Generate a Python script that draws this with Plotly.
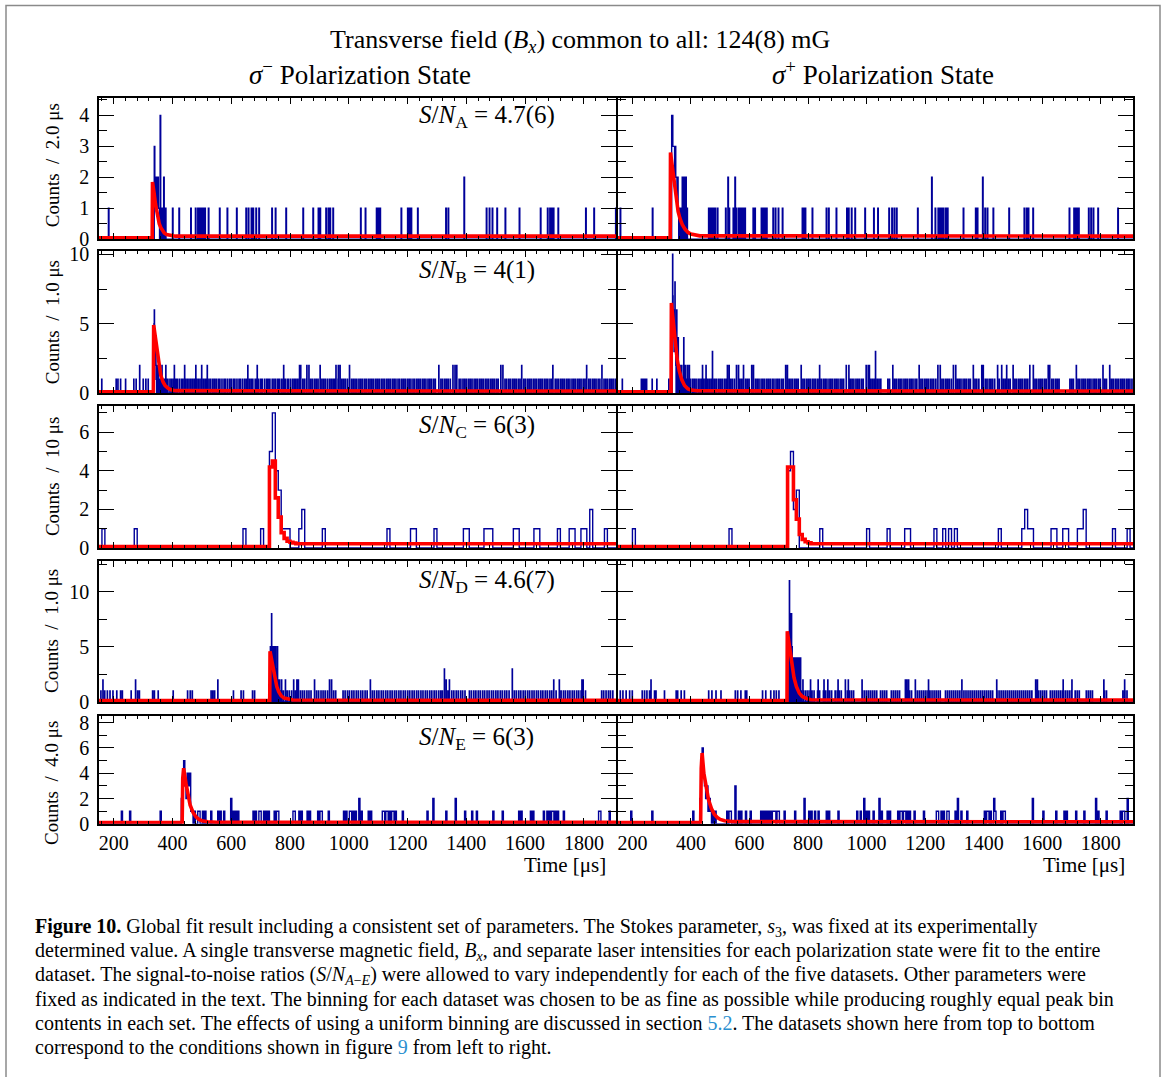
import numpy as np
import plotly.graph_objects as go

W, H = 1165, 1077
T_MIN, T_MAX = 150, 1910

# ---------------- per-row settings ----------------
ROW_KEYS = ["A", "B", "C", "D", "E"]
BIN_WIDTH = [2.0, 1.0, 10.0, 1.0, 4.0]
Y_TITLES = ["Counts  /  2.0 μs", "Counts  /  1.0 μs", "Counts  /  10 μs",
            "Counts  /  1.0 μs", "Counts  /  4.0 μs"]
SN_VALUES = ["4.7(6)", "4(1)", "6(3)", "4.6(7)", "6(3)"]
Y_MAX = [4.55, 10.22, 7.35, 12.78, 8.53]
Y_DTICK = [1, 5, 2, 5, 2]
Y_MINOR = [0.5, 2.5, 1, 2.5, 1]
X_TICKS = [200, 400, 600, 800, 1000, 1200, 1400, 1600, 1800]

# ---------------- data: event times [μs] and bin contents ----------------
# Row A, sigma-minus (2 us bins)
A_m_t = [182, 334, 338, 340, 342, 344, 346, 348, 350, 352, 354, 358, 362, 366, 370, 376,
         400, 422, 463, 479, 487, 492, 499, 505, 511, 522, 560, 586, 618, 650, 659, 668,
         675, 684, 695, 739, 750, 787, 845, 879, 896, 902, 923, 930, 937, 947, 1040, 1056,
         1094, 1101, 1107, 1178, 1201, 1207, 1212, 1235, 1331, 1338, 1393, 1469, 1479,
         1489, 1504, 1533, 1581, 1652, 1677, 1684, 1690, 1697, 1712, 1806, 1834, 1908]
A_m_n = [1, 1, 3, 1, 2, 1, 2, 1, 2, 1, 1, 4, 1, 1, 2, 1,
         1, 1, 1, 1, 1, 1, 1, 1, 1, 1, 1, 1, 1, 1, 1, 1,
         1, 1, 1, 1, 1, 1, 1, 1, 1, 1, 1, 1, 1, 1, 1, 1,
         1, 1, 1, 1, 1, 1, 1, 1, 1, 1, 2, 1, 1,
         1, 1, 1, 1, 1, 1, 1, 1, 1, 1, 1, 1, 1]
# Row A, sigma-plus
A_p_t = [158, 269, 334, 336, 338, 340, 342, 344, 346, 348, 350, 352, 354, 356, 360, 364,
         370, 374, 378, 382, 386, 460, 465, 471, 477, 482, 490, 519, 526, 530, 544, 551,
         555, 562, 566, 573, 579, 585, 613, 619, 640, 647, 653, 658, 681, 689, 698, 712,
         780, 785, 791, 814, 863, 871, 896, 933, 939, 948, 961, 995, 1024, 1038, 1077,
         1086, 1095, 1103, 1174, 1222, 1234, 1245, 1251, 1256, 1262, 1270, 1276, 1330,
         1372, 1379, 1396, 1404, 1413, 1432, 1487, 1538, 1546, 1552, 1569, 1693, 1708,
         1714, 1720, 1725, 1758, 1767, 1775, 1790, 1858]
A_p_n = [1, 1, 4, 4, 3, 3, 3, 2, 3, 2, 2, 1, 2, 1, 1, 1,
         2, 2, 2, 2, 1, 1, 1, 1, 1, 1, 1, 1, 2, 1, 1, 2,
         1, 1, 1, 1, 1, 1, 1, 1, 1, 1, 1, 1, 1, 1, 1, 1,
         1, 1, 1, 1, 1, 1, 1, 1, 1, 1, 1, 1, 1, 1, 1,
         1, 1, 1, 1, 2, 1, 1, 1, 1, 1, 1, 1, 1,
         1, 1, 2, 1, 1, 1, 1, 1, 1, 1, 1, 1, 1,
         1, 1, 1, 1, 1, 1, 1, 1]

# Row B, sigma-minus (1 us bins)
B_m_t = [159, 208, 214, 223, 240, 268, 276, 288, 300, 309, 317,
         336, 337, 338, 339, 340, 341, 342, 343, 344, 345, 347, 348, 350, 352, 355, 358,
         361, 364, 367, 377, 406, 441, 479, 499, 518, 656, 688, 778, 832, 836, 857, 864,
         902, 956, 964, 970, 1002, 1306, 1354, 1361, 1367, 1517, 1524, 1588, 1694, 1809, 1861]
B_m_n = [1, 1, 1, 1, 1, 1, 1, 2, 1, 1, 1,
         2, 5, 6, 4, 3, 2, 4, 3, 1, 2, 1, 2, 1, 2, 1, 1,
         1, 2, 1, 2, 2, 2, 2, 2, 2, 2, 2, 2, 2, 2, 2, 2,
         2, 2, 2, 2, 2, 2, 2, 2, 2, 2, 2, 2, 2, 2, 2]
B_m_bg = [372, 379, 384, 391, 397, 403, 411, 416, 423, 430, 435, 444, 450, 456, 462, 468,
          474, 481, 487, 493, 505, 511, 516, 524, 530, 537, 543, 549, 556, 561, 568, 575,
          580, 587, 594, 600, 607, 612, 619, 626, 631, 638, 645, 651, 662, 668, 673, 681,
          686, 693, 700, 705, 713, 720, 725, 731, 739, 745, 751, 758, 763, 770, 776, 783,
          790, 795, 802, 809, 815, 820, 826, 843, 849, 856, 870, 876, 883, 889, 895, 908,
          914, 920, 927, 934, 940, 946, 951, 963, 976, 982, 988, 995, 1009, 1015, 1021,
          1027, 1034, 1040, 1046, 1053, 1059, 1066, 1072, 1078, 1084, 1091, 1097, 1103,
          1110, 1116, 1122, 1129, 1135, 1141, 1148, 1154, 1160, 1167, 1173, 1180, 1186,
          1192, 1199, 1205, 1211, 1218, 1224, 1231, 1237, 1243, 1250, 1256, 1262, 1269,
          1275, 1281, 1288, 1294, 1313, 1319, 1326, 1332, 1338, 1345, 1375, 1381, 1388,
          1394, 1400, 1407, 1413, 1419, 1426, 1432, 1438, 1445, 1451, 1457, 1464, 1470,
          1476, 1483, 1489, 1495, 1502, 1508, 1531, 1537, 1544, 1550, 1557, 1563, 1569,
          1576, 1582, 1595, 1601, 1608, 1614, 1620, 1627, 1633, 1639, 1646, 1652, 1658,
          1665, 1671, 1677, 1684, 1690, 1702, 1708, 1714, 1721, 1727, 1733, 1740, 1746,
          1752, 1759, 1765, 1771, 1778, 1784, 1790, 1797, 1803, 1816, 1822, 1829, 1835,
          1841, 1848, 1854, 1868, 1874, 1880, 1887, 1893, 1899, 1906]
# Row B, sigma-plus
B_p_t = [165, 230, 234, 238, 243, 248, 267, 283, 324,
         334, 336, 337, 338, 339, 340, 341, 342, 343, 344, 345, 346, 347, 348, 350, 351,
         352, 354, 356, 358, 360, 362, 365, 368, 371, 375, 378, 380, 384, 387,
         388, 394, 439, 451, 473, 524, 530, 555, 562, 579, 607, 613, 723, 729, 776, 839,
         930, 939, 998, 1005, 1009, 1030, 1089, 1179, 1243, 1251, 1296, 1304, 1364, 1393,
         1398, 1447, 1461, 1478, 1500, 1557, 1569, 1620, 1625, 1716, 1807, 1830]
B_p_n = [1, 1, 1, 1, 1, 1, 1, 1, 1,
         3, 6, 10, 7, 5, 6, 4, 3, 5, 3, 8, 4, 3, 2, 4, 6,
         3, 2, 4, 2, 1, 2, 1, 2, 1, 4, 1, 2, 1, 2,
         2, 2, 2, 2, 3, 2, 2, 2, 2, 2, 2, 2, 2, 2, 2, 2,
         2, 2, 2, 2, 2, 3, 2, 2, 2, 2, 2, 2, 2, 2,
         2, 2, 2, 2, 2, 2, 2, 2, 2, 2, 2, 2]
B_p_bg = [392, 398, 405, 411, 417, 424, 430, 436, 443, 449, 456, 462, 468, 475, 481, 487,
          494, 500, 506, 513, 519, 535, 541, 548, 567, 573, 586, 592, 598, 620, 626, 632,
          639, 645, 651, 658, 664, 670, 677, 683, 690, 696, 702, 709, 715, 735, 741, 747,
          754, 760, 766, 782, 788, 795, 801, 807, 814, 820, 826, 833, 845, 852, 858, 864,
          871, 877, 883, 890, 896, 902, 909, 915, 921, 944, 950, 956, 963, 969, 975, 982,
          988, 1014, 1020, 1026, 1036, 1042, 1048, 1072, 1078, 1095, 1101, 1108, 1114,
          1120, 1127, 1133, 1139, 1146, 1152, 1158, 1165, 1171, 1185, 1191, 1198, 1204,
          1210, 1217, 1223, 1229, 1236, 1257, 1263, 1270, 1276, 1282, 1289, 1310, 1316,
          1322, 1329, 1335, 1341, 1348, 1354, 1370, 1376, 1383, 1405, 1411, 1418, 1424,
          1430, 1437, 1453, 1467, 1473, 1484, 1490, 1506, 1512, 1519, 1525, 1531, 1538,
          1544, 1550, 1575, 1581, 1588, 1594, 1600, 1607, 1613, 1632, 1638, 1645, 1651,
          1657, 1694, 1700, 1706, 1722, 1728, 1735, 1741, 1747, 1754, 1760, 1766, 1773,
          1779, 1785, 1792, 1798, 1813, 1819, 1836, 1842, 1849, 1855, 1861, 1868, 1874,
          1880, 1887, 1893, 1899, 1906]

# Row C, sigma-minus (10 us bins; bin start times)
C_m_t = [160, 270, 640, 700, 730, 740, 750, 760, 770, 780, 790, 830, 840, 910, 1130,
         1210, 1220, 1290, 1390, 1400, 1460, 1470, 1480, 1560, 1570, 1630, 1640, 1710,
         1750, 1760, 1790, 1800, 1820, 1870]
C_m_n = [1, 1, 1, 1, 5, 7, 4, 3, 1, 1, 1, 1, 2, 1, 1,
         1, 1, 1, 1, 1, 1, 1, 1, 1, 1, 1, 1, 1,
         1, 1, 1, 1, 2, 1]
# Row C, sigma-plus
C_p_t = [200, 530, 730, 740, 750, 760, 840, 1000, 1070, 1130, 1140, 1230, 1260, 1280,
         1300, 1450, 1530, 1540, 1550, 1560, 1630, 1640, 1670, 1680, 1720, 1730, 1740,
         1840, 1890]
C_p_n = [1, 1, 4, 5, 2, 3, 1, 1, 1, 1, 1, 1, 1, 1,
         1, 1, 1, 2, 1, 1, 1, 1, 1, 1, 1, 1, 2,
         1, 1]

# Row D, sigma-minus (1 us bins)
D_m_t = [156, 163, 169, 178, 187, 197, 210, 223, 229, 259, 274, 281, 287, 332, 338, 351,
         402, 451, 460, 467, 531, 537, 543, 554, 607, 633, 641, 672, 679,
         733, 735, 737, 738, 740, 742, 743, 745, 747, 749, 751, 753, 755, 757, 759, 762,
         764, 767, 771, 784, 812, 823, 828, 883, 934, 941, 1073, 1325, 1331, 1342, 1556,
         1697, 1716, 1793, 1797]
D_m_n = [1, 2, 1, 1, 1, 1, 1, 1, 1, 1, 2, 1, 1, 1, 1, 1,
         1, 1, 1, 1, 1, 1, 1, 2, 1, 1, 1, 1, 1,
         5, 3, 8, 4, 5, 3, 5, 2, 5, 3, 5, 2, 3, 5, 2, 1,
         2, 1, 2, 2, 2, 2, 2, 2, 2, 2, 2, 3, 2, 2, 3,
         2, 2, 2, 2]
D_m_bg = [770, 777, 790, 797, 805, 818, 835, 842, 849, 857, 864, 871, 890, 897, 905, 912,
          919, 927, 948, 955, 980, 987, 995, 1002, 1010, 1017, 1025, 1032, 1040, 1047,
          1055, 1062, 1080, 1087, 1095, 1102, 1110, 1117, 1125, 1132, 1140, 1147, 1155,
          1162, 1170, 1177, 1185, 1192, 1200, 1207, 1215, 1222, 1230, 1237, 1245, 1252,
          1260, 1267, 1275, 1282, 1290, 1297, 1305, 1312, 1318, 1337, 1350, 1357, 1365,
          1372, 1380, 1387, 1395, 1410, 1417, 1425, 1432, 1440, 1447, 1455, 1462, 1470,
          1477, 1485, 1492, 1500, 1507, 1515, 1522, 1530, 1537, 1545, 1563, 1570, 1578,
          1585, 1593, 1600, 1608, 1615, 1623, 1630, 1638, 1645, 1653, 1660, 1668, 1675,
          1683, 1690, 1705, 1722, 1730, 1737, 1745, 1752, 1760, 1767, 1775, 1782, 1790,
          1805, 1860, 1867, 1875, 1883, 1890, 1898]
# Row D, sigma-plus
D_p_t = [158, 167, 178, 190, 199, 233, 241, 249, 258, 263, 275, 280, 309, 349, 354, 366,
         377, 460, 471, 485, 502, 551, 559, 570, 585, 590, 644, 655, 672, 683, 691, 700,
         730, 732, 734, 736, 737, 739, 741, 743, 745, 747, 749, 751, 753, 754, 756, 758,
         760, 762, 764, 766, 768, 770, 772, 774, 776,
         782, 808, 834, 854, 867, 902, 927, 937, 984, 1132, 1137, 1143, 1166, 1211, 1325,
         1444, 1577, 1583, 1671, 1701, 1810, 1881]
D_p_n = [1, 1, 1, 1, 1, 1, 1, 1, 1, 2, 1, 1, 1, 1, 1, 1,
         1, 1, 1, 1, 1, 1, 1, 1, 1, 1, 1, 1, 1, 1, 1, 1,
         3, 6, 6, 11, 8, 8, 8, 8, 5, 4, 3, 4, 2, 4, 3, 4,
         2, 4, 1, 4, 2, 4, 1, 4, 1,
         2, 2, 2, 2, 2, 2, 2, 2, 2, 2, 2, 2, 2, 2, 2,
         2, 2, 2, 2, 2, 2, 2]
D_p_bg = [785, 792, 799, 806, 813, 820, 832, 839, 852, 859, 866, 873, 880, 892, 899, 906,
          913, 927, 934, 941, 948, 955, 985, 992, 999, 1006, 1013, 1020, 1027, 1034, 1047,
          1054, 1061, 1068, 1084, 1091, 1098, 1105, 1112, 1132, 1139, 1146, 1153, 1167,
          1174, 1181, 1188, 1195, 1202, 1209, 1216, 1223, 1230, 1237, 1244, 1251, 1269,
          1276, 1283, 1290, 1297, 1304, 1311, 1318, 1332, 1339, 1346, 1353, 1360, 1367,
          1374, 1381, 1388, 1395, 1402, 1409, 1416, 1423, 1430, 1445, 1452, 1459, 1466,
          1473, 1480, 1487, 1494, 1501, 1508, 1515, 1522, 1529, 1536, 1543, 1550, 1557,
          1564, 1579, 1586, 1593, 1600, 1607, 1614, 1627, 1634, 1641, 1648, 1655, 1662,
          1669, 1678, 1685, 1692, 1699, 1712, 1719, 1726, 1750, 1757, 1764, 1771, 1812,
          1819, 1875, 1882, 1889]

# Row E, sigma-minus (4 us bins)
E_m_t = [227, 255, 360, 432, 436, 440, 444, 448, 452, 456, 460, 464, 469, 477, 486, 492,
         502, 511, 531, 556, 563, 575, 598, 607, 614, 624, 675, 682, 695, 701, 710, 720,
         729, 748, 755, 761, 810, 816, 832, 838, 861, 868, 896, 902, 909, 932, 985, 992,
         1002, 1007, 1015, 1024, 1037, 1043, 1069, 1075, 1114, 1120, 1126, 1133, 1139,
         1146, 1152, 1158, 1184, 1267, 1287, 1331, 1363, 1396, 1421, 1434, 1492, 1524,
         1581, 1588, 1620, 1626, 1665, 1677, 1684, 1690, 1697, 1703, 1710, 1733, 1850,
         1857, 1889]
E_m_n = [1, 1, 1, 2, 3, 5, 3, 2, 4, 3, 4, 1, 1, 1, 1, 1,
         1, 1, 1, 1, 1, 1, 2, 1, 1, 1, 1, 1, 1, 1, 1, 1,
         1, 1, 1, 1, 1, 1, 1, 1, 1, 1, 1, 1, 1, 1, 1, 1,
         1, 1, 1, 1, 2, 1, 1, 1, 1, 1, 1, 1, 1,
         1, 1, 1, 1, 1, 2, 1, 2, 1, 1, 1, 1, 1,
         1, 1, 1, 1, 1, 1, 1, 1, 1, 1, 1, 1, 1,
         1, 1]
# Row E, sigma-plus
E_p_t = [195, 269, 409, 432, 436, 440, 444, 448, 452, 456, 460, 464, 468, 476, 482, 522,
         530, 536, 551, 562, 573, 587, 604, 641, 649, 657, 664, 672, 678, 683, 689, 695,
         700, 721, 757, 789, 803, 812, 823, 837, 863, 871, 905, 967, 978, 993, 1001, 1007,
         1024, 1043, 1050, 1073, 1081, 1109, 1115, 1120, 1126, 1132, 1141, 1149, 1163,
         1194, 1240, 1245, 1254, 1262, 1274, 1279, 1302, 1313, 1325, 1342, 1402, 1410,
         1415, 1424, 1436, 1438, 1459, 1467, 1472, 1569, 1603, 1648, 1676, 1685, 1716,
         1742, 1784, 1790, 1818, 1869, 1875, 1881, 1893]
E_p_n = [1, 1, 1, 2, 4, 6, 4, 3, 2, 3, 1, 2, 1, 1, 1, 1,
         1, 1, 3, 1, 1, 1, 1, 1, 1, 1, 1, 1, 1, 1, 1, 1,
         1, 1, 1, 2, 1, 1, 1, 1, 1, 1, 1, 1, 1, 2, 1, 1,
         1, 2, 1, 1, 1, 1, 1, 1, 1, 1, 1, 1, 1,
         1, 1, 1, 1, 1, 1, 1, 1, 2, 1, 1, 1, 1,
         1, 1, 2, 1, 1, 1, 1, 2, 1, 1, 1, 1, 1,
         1, 2, 1, 1, 1, 1, 1, 2]

# ---------------- fitted model curves ----------------
A_m_fit_t = [150, 331, 332, 334, 338, 342, 346, 350, 355, 360, 366, 372, 380, 392, 410, 1910]
A_m_fit_y = [0.05, 0.05, 1.85, 1.75, 1.45, 1.15, 0.9, 0.7, 0.5, 0.38, 0.27, 0.2, 0.15, 0.12, 0.1, 0.1]
A_p_fit_t = [150, 329, 330, 334, 338, 342, 346, 350, 356, 362, 370, 380, 390, 400, 415, 430, 1910]
A_p_fit_y = [0.05, 0.05, 2.8, 2.5, 2.1, 1.75, 1.45, 1.2, 0.9, 0.68, 0.48, 0.32, 0.22, 0.17, 0.13, 0.11, 0.1]
B_m_fit_t = [150, 335, 336, 340, 345, 350, 355, 360, 368, 375, 385, 395, 410, 1910]
B_m_fit_y = [0.1, 0.1, 4.9, 4.3, 3.3, 2.5, 1.8, 1.3, 0.8, 0.55, 0.35, 0.25, 0.18, 0.15]
B_p_fit_t = [150, 332, 333, 338, 343, 348, 353, 360, 368, 378, 390, 400, 420, 1910]
B_p_fit_y = [0.1, 0.1, 6.5, 5.5, 4.3, 3.2, 2.4, 1.6, 1.0, 0.55, 0.3, 0.22, 0.17, 0.15]
C_m_fit_t = [150, 730, 740, 750, 760, 770, 780, 790, 800, 810, 820, 1910]
C_m_fit_y = [0.08, 4.2, 4.5, 2.6, 1.6, 0.8, 0.5, 0.35, 0.3, 0.26, 0.22, 0.22]
C_p_fit_t = [150, 730, 740, 750, 760, 770, 780, 790, 800, 810, 1910]
C_p_fit_y = [0.08, 4.2, 4.2, 2.5, 1.5, 0.7, 0.45, 0.33, 0.27, 0.22, 0.22]
D_m_fit_t = [150, 731, 732, 737, 742, 748, 755, 762, 770, 780, 795, 810, 1910]
D_m_fit_y = [0.13, 0.13, 4.6, 3.9, 3.0, 2.2, 1.4, 0.9, 0.55, 0.35, 0.22, 0.17, 0.15]
D_p_fit_t = [150, 728, 729, 734, 739, 745, 752, 760, 770, 780, 795, 810, 1910]
D_p_fit_y = [0.13, 0.13, 6.4, 5.4, 4.3, 3.2, 2.2, 1.4, 0.8, 0.5, 0.3, 0.2, 0.17]
E_m_fit_t = [150, 433, 435, 438, 446, 452, 460, 470, 480, 490, 500, 520, 550, 1910]
E_m_fit_y = [0.1, 0.1, 3.6, 4.4, 3.2, 2.3, 1.5, 0.9, 0.55, 0.35, 0.25, 0.17, 0.13, 0.12]
E_p_fit_t = [150, 433, 435, 438, 444, 452, 460, 470, 480, 490, 500, 515, 540, 1910]
E_p_fit_y = [0.1, 0.1, 4.4, 5.6, 4.0, 2.8, 1.9, 1.2, 0.75, 0.5, 0.35, 0.25, 0.18, 0.17]

DATA = {
    ("A", 0): (A_m_t, A_m_n, [], A_m_fit_t, A_m_fit_y),
    ("A", 1): (A_p_t, A_p_n, [], A_p_fit_t, A_p_fit_y),
    ("B", 0): (B_m_t, B_m_n, B_m_bg, B_m_fit_t, B_m_fit_y),
    ("B", 1): (B_p_t, B_p_n, B_p_bg, B_p_fit_t, B_p_fit_y),
    ("C", 0): (C_m_t, C_m_n, [], C_m_fit_t, C_m_fit_y),
    ("C", 1): (C_p_t, C_p_n, [], C_p_fit_t, C_p_fit_y),
    ("D", 0): (D_m_t, D_m_n, D_m_bg, D_m_fit_t, D_m_fit_y),
    ("D", 1): (D_p_t, D_p_n, D_p_bg, D_p_fit_t, D_p_fit_y),
    ("E", 0): (E_m_t, E_m_n, [], E_m_fit_t, E_m_fit_y),
    ("E", 1): (E_p_t, E_p_n, [], E_p_fit_t, E_p_fit_y),
}

# ---------------- layout geometry (pixels, target positions) ----------------
COLS_PX = [(99, 616.2), (617.8, 1133)]
ROWS_PX = [(97, 238), (250, 392), (405, 547), (560, 701), (715, 823)]
YLAB_CY = [164, 321, 476, 630, 782]
SN_CY = [115, 270, 425, 580, 738]
CAPTION_Y0, CAPTION_DY = 927, 24

FONT = "Liberation Serif"
BLUE = "#00009a"
RED = "#ff0000"
# vertical calibration of the capture (observed = K * page + B)
K_CAL, B_CAL = 0.983, 6.6


def px(x):
    return x / W


def py(y):
    return 1 - ((y - B_CAL) / K_CAL) / H


def histogram(width, ev_t, ev_n, bg):
    edges = np.arange(T_MIN, T_MAX + width * 0.5, width)
    counts = np.zeros(len(edges) - 1)
    for t in bg:
        i = int((t - T_MIN) // width)
        if 0 <= i < len(counts):
            counts[i] += 1
    for t, n in zip(ev_t, ev_n):
        i = int((t - T_MIN) // width)
        if 0 <= i < len(counts):
            counts[i] = max(counts[i], n)
    return edges, np.append(counts, counts[-1])


fig = go.Figure()
layout = dict(
    width=W, height=H, margin=dict(l=0, r=0, t=0, b=0),
    paper_bgcolor="white", plot_bgcolor="white", showlegend=False,
    font=dict(family=FONT, color="black"),
)
annotations = []

for r, key in enumerate(ROW_KEYS):
    for c in range(2):
        k = r * 2 + c + 1
        xa, ya = f"x{k}", f"y{k}"
        ev_t, ev_n, bg, fit_t, fit_y = DATA[(key, c)]
        edges, counts = histogram(BIN_WIDTH[r], ev_t, ev_n, bg)
        fig.add_trace(go.Scatter(
            x=edges, y=counts, mode="lines", line=dict(color=BLUE, width=1.4, shape="hv"),
            xaxis=xa, yaxis=ya, hoverinfo="skip"))
        fig.add_trace(go.Scatter(
            x=fit_t, y=fit_y, mode="lines",
            line=dict(color=RED, width=3.6, shape="hv" if key == "C" else "linear"),
            xaxis=xa, yaxis=ya, hoverinfo="skip"))

        x0, x1 = COLS_PX[c]
        y0, y1 = ROWS_PX[r]
        xname = "xaxis" if k == 1 else f"xaxis{k}"
        yname = "yaxis" if k == 1 else f"yaxis{k}"
        layout[xname] = dict(
            domain=[px(x0), px(x1)], anchor=ya, range=[T_MIN, T_MAX],
            showline=True, linecolor="black", linewidth=1.6, mirror="allticks",
            ticks="inside", ticklen=6, tickwidth=1.2, tickcolor="black",
            tickvals=X_TICKS,
            minor=dict(dtick=40, tick0=0, ticks="inside", ticklen=3, tickcolor="black",
                       tickwidth=1, showgrid=False),
            showgrid=False, zeroline=False,
            showticklabels=(r == 4), tickfont=dict(size=20, family=FONT),
        )
        layout[yname] = dict(
            domain=[py(y1), py(y0)], anchor=xa, range=[0, Y_MAX[r]],
            showline=True, linecolor="black", linewidth=1.6, mirror="allticks",
            ticks="inside", ticklen=15, tickwidth=1.2, tickcolor="black",
            dtick=Y_DTICK[r], tick0=0,
            minor=dict(dtick=Y_MINOR[r], tick0=0, ticks="inside", ticklen=8,
                       tickcolor="black", tickwidth=1, showgrid=False),
            showgrid=False, zeroline=False, ticklabelstandoff=4,
            showticklabels=(c == 0), tickfont=dict(size=20, family=FONT),
        )

    # y-axis title (left column only)
    annotations.append(dict(
        x=px(52), y=py(YLAB_CY[r]), xref="paper", yref="paper", text=Y_TITLES[r],
        textangle=-90, showarrow=False, font=dict(size=19, family=FONT),
        xanchor="center", yanchor="middle"))
    # S/N label
    annotations.append(dict(
        x=px(417), y=py(SN_CY[r]), xref="paper", yref="paper",
        text=f"<i>S</i>/<i>N</i><sub>{key}</sub> = {SN_VALUES[r]}",
        showarrow=False, font=dict(size=25, family=FONT), xanchor="left", yanchor="middle"))

# titles
annotations.append(dict(
    x=px(580), y=py(40), xref="paper", yref="paper",
    text="Transverse field (<i>B</i><sub><i>x</i></sub>) common to all: 124(8) mG",
    showarrow=False, font=dict(size=26, family=FONT), xanchor="center", yanchor="middle"))
annotations.append(dict(
    x=px(360), y=py(72), xref="paper", yref="paper",
    text="<i>σ</i><sup>−</sup> Polarization State",
    showarrow=False, font=dict(size=27, family=FONT), xanchor="center", yanchor="middle"))
annotations.append(dict(
    x=px(883), y=py(72), xref="paper", yref="paper",
    text="<i>σ</i><sup>+</sup> Polarization State",
    showarrow=False, font=dict(size=27, family=FONT), xanchor="center", yanchor="middle"))
for xr in (608, 1127):
    annotations.append(dict(
        x=px(xr), y=py(864), xref="paper", yref="paper", text="Time [μs]",
        showarrow=False, font=dict(size=21, family=FONT), xanchor="right", yanchor="middle"))

LINK = "color:#2a8fd0"
CAPTION = [
    "<b>Figure 10.</b> Global fit result including a consistent set of parameters. The Stokes parameter, <i>s</i><sub>3</sub>, was fixed at its experimentally",
    "determined value. A single transverse magnetic field, <i>B<sub>x</sub></i>, and separate laser intensities for each polarization state were fit to the entire",
    "dataset. The signal-to-noise ratios (<i>S</i>/<i>N</i><sub><i>A</i>−<i>E</i></sub>) were allowed to vary independently for each of the five datasets. Other parameters were",
    "fixed as indicated in the text. The binning for each dataset was chosen to be as fine as possible while producing roughly equal peak bin",
    f"contents in each set. The effects of using a uniform binning are discussed in section <span style='{LINK}'>5.2</span>. The datasets shown here from top to bottom",
    f"correspond to the conditions shown in figure <span style='{LINK}'>9</span> from left to right.",
]
for i, line in enumerate(CAPTION):
    annotations.append(dict(
        x=px(33), y=py(CAPTION_Y0 + CAPTION_DY * i), xref="paper", yref="paper", text=line,
        showarrow=False, font=dict(size=20, family=FONT), xanchor="left", yanchor="middle"))

layout["annotations"] = annotations
layout["shapes"] = [dict(type="rect", xref="paper", yref="paper",
                         x0=px(6), y0=-0.05, x1=px(1160), y1=py(4),
                         line=dict(color="#8a8a8a", width=1.5), layer="below")]
fig.update_layout(**layout)

PAGE_JS = (
    "document.documentElement.style.margin='0';"
    "document.documentElement.style.overflow='hidden';"
    "document.documentElement.style.height='1077px';"
    "document.body.style.margin='0';document.body.style.padding='0';"
    "document.body.style.overflow='hidden';document.body.style.height='1077px';"
    "var d=document.getElementById('{plot_id}');"
    "d.style.position='fixed';d.style.left='0px';d.style.top='0px';"
)
fig.write_html("out.html", config={"displayModeBar": False}, post_script=PAGE_JS)
